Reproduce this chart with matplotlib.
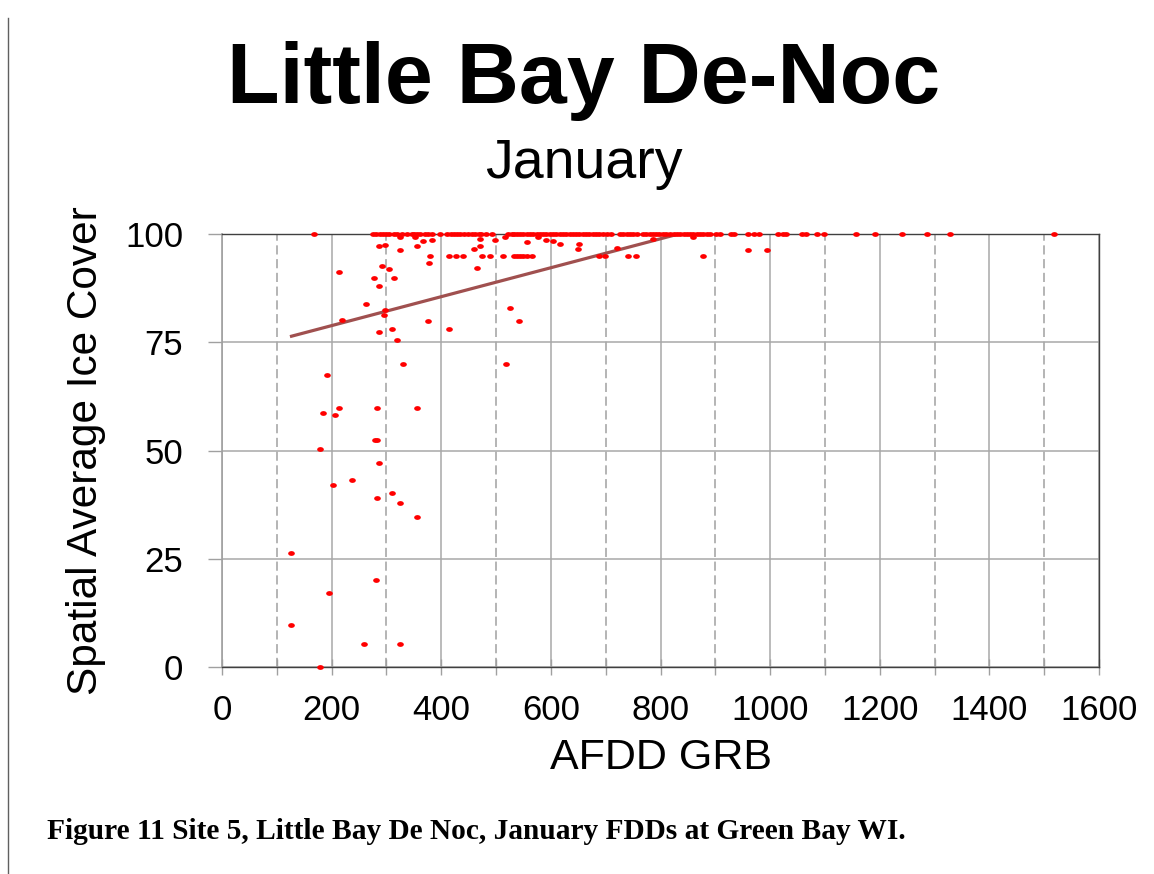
import numpy as np
import matplotlib.pyplot as plt
from matplotlib.path import Path
from matplotlib.ticker import MultipleLocator, FuncFormatter
from matplotlib.lines import Line2D

plt.rcParams['font.family'] = ['Liberation Sans', 'DejaVu Sans']

# January AFDD (Green Bay) vs spatial average ice cover, Little Bay De-Noc
# years with complete ice cover
afdd_full = [168, 275, 281, 288, 293, 300, 305, 313, 319, 328, 337, 346, 351,
             355, 361, 370, 376, 384, 398, 411, 417, 423, 428, 434, 442, 448,
             456, 462, 468, 472, 482, 492, 522, 529, 533, 538, 543, 550, 556,
             562, 568, 574, 580, 586, 592, 598, 604, 610, 616, 622, 628, 634,
             640, 646, 652, 658, 664, 670, 676, 682, 688, 695, 702, 709, 726,
             732, 738, 744, 750, 757, 768, 774, 780, 786, 792, 798, 804, 810,
             818, 824, 830, 836, 842, 848, 854, 860, 866, 872, 878, 885, 891,
             901, 909, 928, 934, 959, 971, 980, 1015, 1023, 1029, 1058, 1066,
             1086, 1099, 1157, 1192, 1240, 1286, 1328, 1518]

# years at roughly 95 percent
afdd_95 = [380, 415, 427, 439, 474, 489, 512, 532, 538, 544, 550, 556, 565,
           687, 699, 741, 755, 878]

# remaining years
afdd_other = [287, 297, 324, 325, 352, 356, 367, 384, 459, 471, 471, 498, 516,
              556, 577, 592, 603, 616, 652, 650, 720, 786, 860, 959, 994,
              378, 291, 305, 278, 314, 287, 465, 214, 263, 298, 296, 219, 375,
              287, 310, 414, 320, 330, 192, 184, 207, 214, 282, 356, 279, 283,
              179, 287, 237, 203, 311, 282, 325, 356, 125, 281, 196, 125, 259,
              325, 179, 526, 541, 519]
ice_other = [97.2, 97.5, 99.3, 96.3, 99.2, 97.2, 98.4, 98.7, 96.6, 98.8, 97.2,
             98.6, 99.3, 98.2, 99.3, 98.7, 98.4, 97.6, 97.6, 96.6, 96.8, 98.9,
             99.2, 96.3, 96.3,
             93.2, 92.5, 92.0, 89.9, 89.9, 88.0, 92.1, 91.3, 83.8, 82.4, 81.3,
             80.1, 80.0, 77.4, 78.0, 78.0, 75.5, 69.9, 67.4, 58.7, 58.3, 59.9,
             59.9, 59.9, 52.4, 52.4, 50.4, 47.1, 43.3, 42.1, 40.3, 39.0, 37.8,
             34.6, 26.4, 20.2, 17.1, 9.6, 5.2, 5.2, 0.0, 82.8, 80.0, 69.9]

# linear trend line end points
trend_x = [124, 833]
trend_y = [76.3, 100]

afdd = np.array(afdd_full + afdd_95 + afdd_other, dtype=float)
ice = np.array([100.0] * len(afdd_full) + [95.0] * len(afdd_95) + ice_other)

fig = plt.figure(figsize=(11.54, 8.74), dpi=100)
ax = fig.add_axes([222 / 1154, 1 - 667 / 874, 877 / 1154, 433 / 874])

# slightly flattened dot marker
circ = Path.unit_circle()
dot = Path(circ.vertices * np.array([1.0, 0.72]), circ.codes)

ax.plot(trend_x, trend_y, color='#A0504F', lw=2.3, zorder=3, solid_capstyle='butt')
ax.plot(afdd, ice, ls='none', marker=dot, ms=4.8, color='#FF0000',
        mec='#FF0000', mew=0, zorder=4, clip_on=False)

ax.set_xlim(0, 1600)
ax.set_ylim(0, 100)
ax.xaxis.set_major_locator(MultipleLocator(200))
ax.xaxis.set_minor_locator(MultipleLocator(100))
ax.yaxis.set_major_locator(MultipleLocator(25))
ax.xaxis.set_major_formatter(FuncFormatter(lambda v, p: f'{v:.0f}'))

ax.grid(which='major', axis='both', color='#A8A8A8', lw=1.1, ls='-', zorder=0)
ax.grid(which='minor', axis='x', color='#A0A0A0', lw=1.1, ls=(0, (6, 3)), zorder=0)

ax.tick_params(axis='x', which='both', direction='inout', length=11,
               color='#A0A0A0', width=1, labelsize=25, pad=14)
ax.tick_params(axis='y', which='major', direction='out', length=10,
               color='#A0A0A0', width=1, labelsize=25, pad=18)

for side in ['top', 'bottom', 'right']:
    ax.spines[side].set_color('#404040')
    ax.spines[side].set_linewidth(1.0)
ax.spines['left'].set_color('#A0A0A0')
ax.spines['left'].set_linewidth(1.2)

ax.set_xlabel('AFDD GRB', fontsize=31, labelpad=8)
ax.set_ylabel('Spatial Average Ice Cover', fontsize=30.5, labelpad=14)

fig.text(584 / 1154, 1 - 103 / 874, 'Little Bay De-Noc', ha='center',
         va='baseline', fontsize=62, fontweight='bold')
fig.text(584 / 1154, 1 - 178 / 874, 'January', ha='center', va='baseline',
         fontsize=40)
fig.text(47 / 1154, 1 - 839 / 874,
         'Figure 11 Site 5, Little Bay De Noc, January FDDs at Green Bay WI.',
         ha='left', va='baseline', fontsize=21.2, fontweight='bold',
         family='Liberation Serif')

# page margin rule on the left
fig.add_artist(Line2D([7.5 / 1154, 7.5 / 1154], [0, 1 - 18 / 874],
                      transform=fig.transFigure, color='#606060', lw=1))

fig.savefig('out.png', dpi=100)
